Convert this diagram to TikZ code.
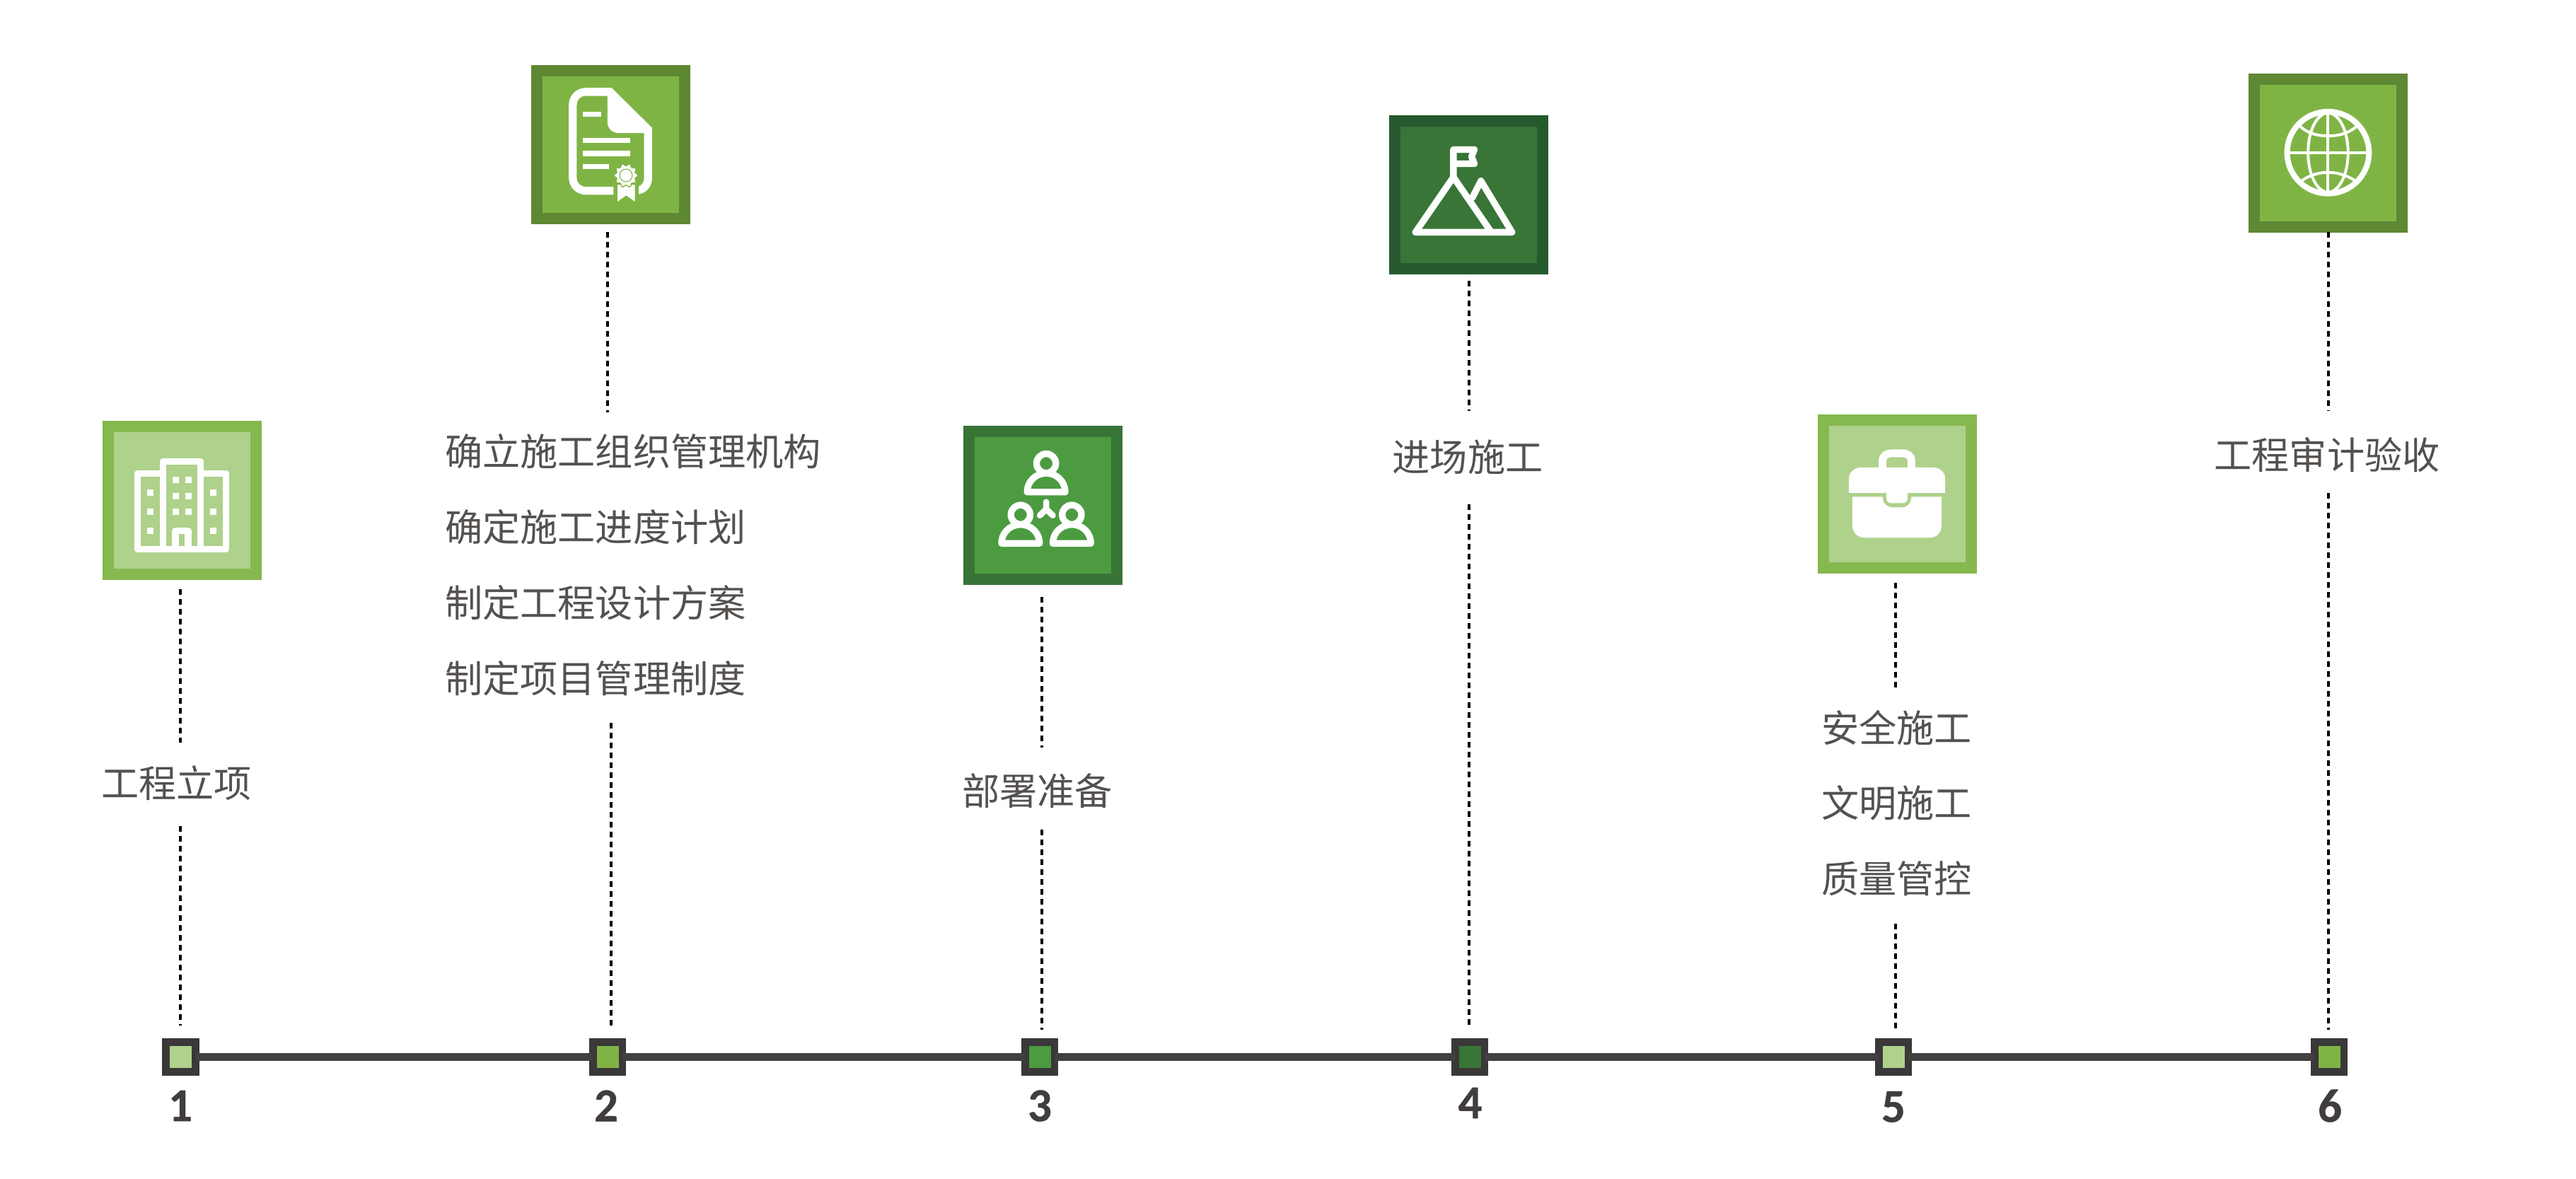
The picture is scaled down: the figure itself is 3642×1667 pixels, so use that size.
\documentclass[tikz,border=0pt]{standalone}
\usepackage{fontspec}
\setmainfont{Carlito}
\newfontfamily\numfont[BoldFeatures={FakeBold=0.6}]{Carlito}
\newfontfamily\cjk{Noto Sans CJK SC}
\definecolor{lightO}{HTML}{85B84F}
\definecolor{lightI}{HTML}{AED18B}
\definecolor{midO}{HTML}{5E8834}
\definecolor{midI}{HTML}{7FB445}
\definecolor{deepO}{HTML}{387436}
\definecolor{deepI}{HTML}{4C9B41}
\definecolor{darkO}{HTML}{265A2E}
\definecolor{darkI}{HTML}{397537}
\definecolor{barC}{HTML}{434140}
\definecolor{markC}{HTML}{3A3838}
\definecolor{txtC}{HTML}{54514F}
\definecolor{numC}{HTML}{403D3C}
\tikzset{
  iconbox/.style={draw=#1O,fill=#1I,line width=0.16cm,minimum size=2.09cm,inner sep=0pt,outer sep=0pt},
  marker/.style={draw=markC,fill=#1,line width=0.105cm,minimum size=0.415cm,inner sep=0pt,outer sep=0pt},
  lbl/.style={text=txtC,font=\cjk\fontsize{15.12pt}{18pt}\selectfont,inner sep=0pt},
  num/.style={text=numC,font=\numfont\fontsize{19pt}{22pt}\selectfont\bfseries,inner sep=0pt},
  dots/.style={draw=black,line width=1.2pt,dash pattern=on 2.28pt off 1.7pt},
  timebar/.style={draw=barC,line width=0.105cm},
  zoomed/.style={x=0.003333cm,y=-0.003333cm},
  wline/.style={draw=white,line width=#1*0.0948pt,line join=round,line cap=round},
}
\newcommand{\personicon}[2]{%
  \begin{scope}[shift={(#1,#2)}]
    \draw[wline=28] (448,226) circle [radius=41];
    \draw[wline=28] (367,348) -- (529,348) .. controls (529,305) and (495,268) .. (448,268) .. controls (401,268) and (367,305) .. (367,348) -- cycle;
  \end{scope}}
\begin{document}
\begin{tikzpicture}[x=0.01cm,y=-0.01cm]
\useasboundingbox (0,0) rectangle (3642,1667);
\fill[white] (0,0) rectangle (3642,1667);

% timeline markers
\node[marker=lightI] (m1) at (255.5,1494.5) {};
\node[marker=midI]   (m2) at (859,1494.5) {};
\node[marker=deepI]  (m3) at (1470,1494.5) {};
\node[marker=darkI]  (m4) at (2078,1494.5) {};
\node[marker=lightI] (m5) at (2677,1494.5) {};
\node[marker=midI]   (m6) at (3293,1494.5) {};
\draw[timebar] (m1) -- (m2);
\draw[timebar] (m2) -- (m3);
\draw[timebar] (m3) -- (m4);
\draw[timebar] (m4) -- (m5);
\draw[timebar] (m5) -- (m6);

% digits
\node[num] (n1) at (255,1563.5) {1};
\node[num] (n2) at (857,1563.5) {2};
\node[num] (n3) at (1470,1563.5) {3};
\node[num] (n4) at (2078.5,1559.5) {4};
\node[num] (n5) at (2677,1565) {5};
\node[num] (n6) at (3294,1563.5) {6};

% icon boxes
\node[iconbox=light] (b1) at (257.5,707.5) {};
\node[iconbox=mid]   (b2) at (863.5,204.5) {};
\node[iconbox=deep]  (b3) at (1474.5,714.5) {};
\node[iconbox=dark]  (b4) at (2076.5,275.5) {};
\node[iconbox=light] (b5) at (2682.5,698.5) {};
\node[iconbox=mid]   (b6) at (3291.5,216.5) {};

% labels
\node[lbl] (t1) at (249.5,1107.5) {工程立项};
\node[lbl,anchor=west] (t2a) at (628.5,638) {确立施工组织管理机构};
\node[lbl,anchor=west] (t2b) at (628.5,745) {确定施工进度计划};
\node[lbl,anchor=west] (t2c) at (628.5,852) {制定工程设计方案};
\node[lbl,anchor=west] (t2d) at (628.5,959) {制定项目管理制度};
\node[lbl] (t3) at (1466.5,1118.5) {部署准备};
\node[lbl] (t4) at (2075,646.5) {进场施工};
\node[lbl] (t5a) at (2681.5,1029) {安全施工};
\node[lbl] (t5b) at (2681.5,1135.5) {文明施工};
\node[lbl] (t5c) at (2681.5,1242) {质量管控};
\node[lbl] (t6) at (3290,643.5) {工程审计验收};

% dotted connector ends
\coordinate (a1) at (255.3,833);  \coordinate (a2) at (255.3,1050);
\coordinate (a3) at (255.3,1168); \coordinate (a4) at (255.3,1450);
\coordinate (c1) at (859.3,328);  \coordinate (c2) at (859.3,583);
\coordinate (c3) at (864,1022);   \coordinate (c4) at (864,1453);
\coordinate (d1) at (1472.7,844); \coordinate (d2) at (1472.7,1057);
\coordinate (d3) at (1472.7,1173);\coordinate (d4) at (1472.7,1456);
\coordinate (e1) at (2076.7,397); \coordinate (e2) at (2076.7,581);
\coordinate (e3) at (2076.7,713); \coordinate (e4) at (2076.7,1453);
\coordinate (f1) at (2680,824);   \coordinate (f2) at (2680,973);
\coordinate (f3) at (2680,1306);  \coordinate (f4) at (2680,1456);
\coordinate (g1) at (3292,328);   \coordinate (g2) at (3292,581);
\coordinate (g3) at (3292,697);   \coordinate (g4) at (3292,1456);
\foreach \p/\q in {a1/a2,a3/a4,c1/c2,c3/c4,d1/d2,d3/d4,e1/e2,e3/e4,f1/f2,f3/f4,g1/g2,g3/g4}
  \draw[dots] (\p) -- (\q);

% building icon
\begin{scope}[shift={(100,560)},zoomed]
  \draw[wline=28] (284,651) -- (284,330) -- (392,330) -- (392,277) -- (552,277) -- (552,330) -- (659,330) -- (659,651) -- cycle;
  \draw[wline=28] (392,330) -- (392,651) (552,330) -- (552,651);
  \draw[wline=28] (445,651) -- (445,572) -- (499,572) -- (499,651);
  \foreach \wx/\wy in {325/398,325/478,325/558,592/398,592/478,592/558,432/344,486/344,432/411,486/411,432/478,486/478}
    \fill[white] (\wx,\wy) rectangle +(27,27);
\end{scope}

% certificate icon
\begin{scope}[shift={(700,60)},zoomed]
  \fill[white] (503,647) -- (385,647) .. controls (345,647) and (313,615) .. (313,575) -- (313,265) .. controls (313,225) and (345,193) .. (385,193) -- (495,193) -- (667,363) -- (667,575) .. controls (667,612) and (643,640) .. (610,645) -- (610,612) .. controls (625,605) and (633,592) .. (633,575) -- (633,385) -- (525,385) .. controls (498,385) and (477,365) .. (477,338) -- (477,227) -- (385,227) .. controls (363,227) and (347,243) .. (347,265) -- (347,575) .. controls (347,597) and (363,613) .. (385,613) -- (503,613) -- cycle;
  \fill[white] (373,294) rectangle (452,317);
  \fill[white] (373,405) rectangle (573,428);
  \fill[white] (373,460) rectangle (573,483);
  \fill[white] (373,516) rectangle (485,538);
  \fill[white] (520,605) -- (594,605) -- (594,676) -- (557,650) -- (520,676) -- cycle;
  \filldraw[fill=white,draw=midI,line width=0.4pt] plot[domain=0:360,samples=90,smooth] ({556+(46+5*cos(10*\x))*cos(\x)},{565+(46+5*cos(10*\x))*sin(\x)}) -- cycle;
  \draw[midI,line width=0.3pt] (556,565) circle [radius=27];
\end{scope}

% people icon
\begin{scope}[shift={(1330,580)},zoomed]
  \personicon{0}{0}
  \personicon{-109}{218}
  \personicon{109}{218}
  \draw[wline=26] (448,390) -- (448,420) (421,447) -- (448,420) -- (476,447);
\end{scope}

% mountain icon
\begin{scope}[shift={(1950,130)},zoomed]
  \draw[wline=28] (154,596) -- (564,596) -- (432,378) -- (395,450);
  \draw[wline=28] (154,596) -- (315,362) -- (476,596);
  \draw[wline=28] (315,362) -- (315,245) -- (404,245) -- (392,275) -- (404,305) -- (315,305);
\end{scope}

% toolbox icon
\begin{scope}[shift={(2560,560)},zoomed]
  \draw[draw=white,line width=33*0.0948pt] (305,310) -- (305,275) .. controls (305,255) and (322,243) .. (345,243) -- (388,243) .. controls (411,243) and (428,255) .. (428,275) -- (428,310);
  \fill[white] (162,411) -- (162,350) .. controls (162,322) and (187,303) .. (215,303) -- (518,303) .. controls (546,303) and (571,322) .. (571,350) -- (571,411) -- (411,411) -- (411,435) .. controls (411,447) and (403,455) .. (391,455) -- (342,455) .. controls (330,455) and (322,447) .. (322,435) -- (322,411) -- cycle;
  \fill[white] (177,428) -- (305,428) .. controls (305,455) and (325,473) .. (350,473) -- (385,473) .. controls (410,473) and (428,455) .. (428,428) -- (556,428) -- (556,548) .. controls (556,580) and (535,602) .. (505,602) -- (230,602) .. controls (198,602) and (177,580) .. (177,548) -- cycle;
\end{scope}

% globe icon
\begin{scope}[shift={(3140,70)},zoomed]
  \draw[draw=white,line width=24*0.0948pt] (455,438) circle [radius=174];
  \draw[draw=white,line width=12*0.0948pt] (455,264) -- (455,612) (285,438) -- (625,438);
  \draw[draw=white,line width=12*0.0948pt] (455,438) ellipse [x radius=85,y radius=168];
  \draw[draw=white,line width=12*0.0948pt] (338,328) .. controls (375,360) and (415,367) .. (455,367) .. controls (495,367) and (535,360) .. (575,328);
  \draw[draw=white,line width=12*0.0948pt] (345,556) .. controls (380,532) and (420,522) .. (455,522) .. controls (490,522) and (530,532) .. (568,556);
\end{scope}
\end{tikzpicture}
\end{document}
